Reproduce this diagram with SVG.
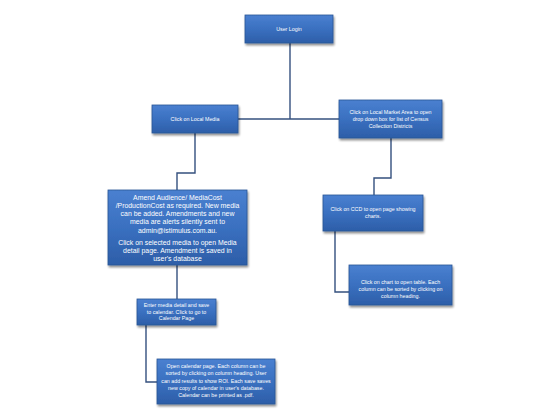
<svg xmlns="http://www.w3.org/2000/svg" width="560" height="420" viewBox="0 0 560 420">
<defs>
<linearGradient id="g" x1="0" y1="0" x2="0" y2="1">
<stop offset="0" stop-color="#4a80d0"/>
<stop offset="0.5" stop-color="#3a70c0"/>
<stop offset="1" stop-color="#2d5ea8"/>
</linearGradient>
<filter id="sh" x="-10%" y="-10%" width="125%" height="135%">
<feGaussianBlur in="SourceAlpha" stdDeviation="1.2"/>
<feOffset dx="1" dy="2" result="b"/>
<feComponentTransfer><feFuncA type="linear" slope="0.45"/></feComponentTransfer>
<feMerge><feMergeNode/><feMergeNode in="SourceGraphic"/></feMerge>
</filter>
</defs>
<style>
.box{fill:url(#g);stroke:#2a5595;stroke-width:0.8;filter:url(#sh)}
.t{font-family:"Liberation Sans",Arial,sans-serif;fill:#ffffff;text-anchor:middle;font-size:5.3px}
.tb{font-family:"Liberation Sans",Arial,sans-serif;fill:#ffffff;text-anchor:middle;font-size:6.9px}
.c{fill:none;stroke:#34507e;stroke-width:1.4}
</style>
<rect width="560" height="420" fill="#ffffff"/>
<g id="connectors">
<path class="c" d="M290,43 V119"/>
<path class="c" d="M238,119 H339"/>
<path class="c" d="M195,133 V173 H177 V190"/>
<path class="c" d="M391,138 V178 H374 V195"/>
<path class="c" d="M177,265 V299"/>
<path class="c" d="M335,231 V292 H349"/>
<path class="c" d="M146,325 V382 H157"/>
</g>
<g id="user-login">
<rect class="box" x="245" y="15" width="88" height="28"/>
<text class="t" x="289" y="31">User Login</text>
</g>
<g id="local-media">
<rect class="box" x="152" y="105" width="86" height="28"/>
<text class="t" x="195" y="121">Click on Local Media</text>
</g>
<g id="local-market">
<rect class="box" x="339" y="100" width="103" height="38"/>
<text class="t" x="390.5" y="114">Click on Local Market Area to open</text>
<text class="t" x="390.5" y="121">drop down box for list of Census</text>
<text class="t" x="390.5" y="128">Collection Districts</text>
</g>
<g id="amend">
<rect class="box" x="108" y="190" width="139" height="75"/>
<text class="tb" x="177.5" y="199.5">Amend Audience/ MediaCost</text>
<text class="tb" x="177.5" y="207.8">/ProductionCost as required. New media</text>
<text class="tb" x="177.5" y="216.1">can be added. Amendments and new</text>
<text class="tb" x="177.5" y="224.4">media are alerts silently sent to</text>
<text class="tb" x="177.5" y="232.7">admin@istimulus.com.au.</text>
<text class="tb" x="177.5" y="244.5">Click on selected media to open Media</text>
<text class="tb" x="177.5" y="252.8">detail page. Amendment is saved  in</text>
<text class="tb" x="177.5" y="261.1">user's  database</text>
</g>
<g id="ccd">
<rect class="box" x="323" y="195" width="100" height="36"/>
<text class="t" x="373" y="211">Click on CCD to open page showing</text>
<text class="t" x="373" y="218">charts.</text>
</g>
<g id="chart">
<rect class="box" x="349" y="265" width="103" height="40"/>
<text class="t" x="400.5" y="284">Click on chart to open table. Each</text>
<text class="t" x="400.5" y="291">column can be sorted by clicking on</text>
<text class="t" x="400.5" y="298">column heading.</text>
</g>
<g id="enter-media">
<rect class="box" x="137" y="299" width="79" height="26"/>
<text class="t" x="176.5" y="307">Enter media detail and save</text>
<text class="t" x="176.5" y="313.5">to calendar.  Click to go to</text>
<text class="t" x="176.5" y="320">Calendar Page</text>
</g>
<g id="calendar">
<rect class="box" x="157" y="359" width="118" height="45"/>
<text class="t" x="216" y="368">Open calendar page. Each column can be</text>
<text class="t" x="216" y="375.3">sorted by clicking on column heading. User</text>
<text class="t" x="216" y="382.6">can add results to show ROI. Each save saves</text>
<text class="t" x="216" y="389.9">new copy of calendar in user's database.</text>
<text class="t" x="216" y="397.2">Calendar can be printed as .pdf.</text>
</g>
</svg>
